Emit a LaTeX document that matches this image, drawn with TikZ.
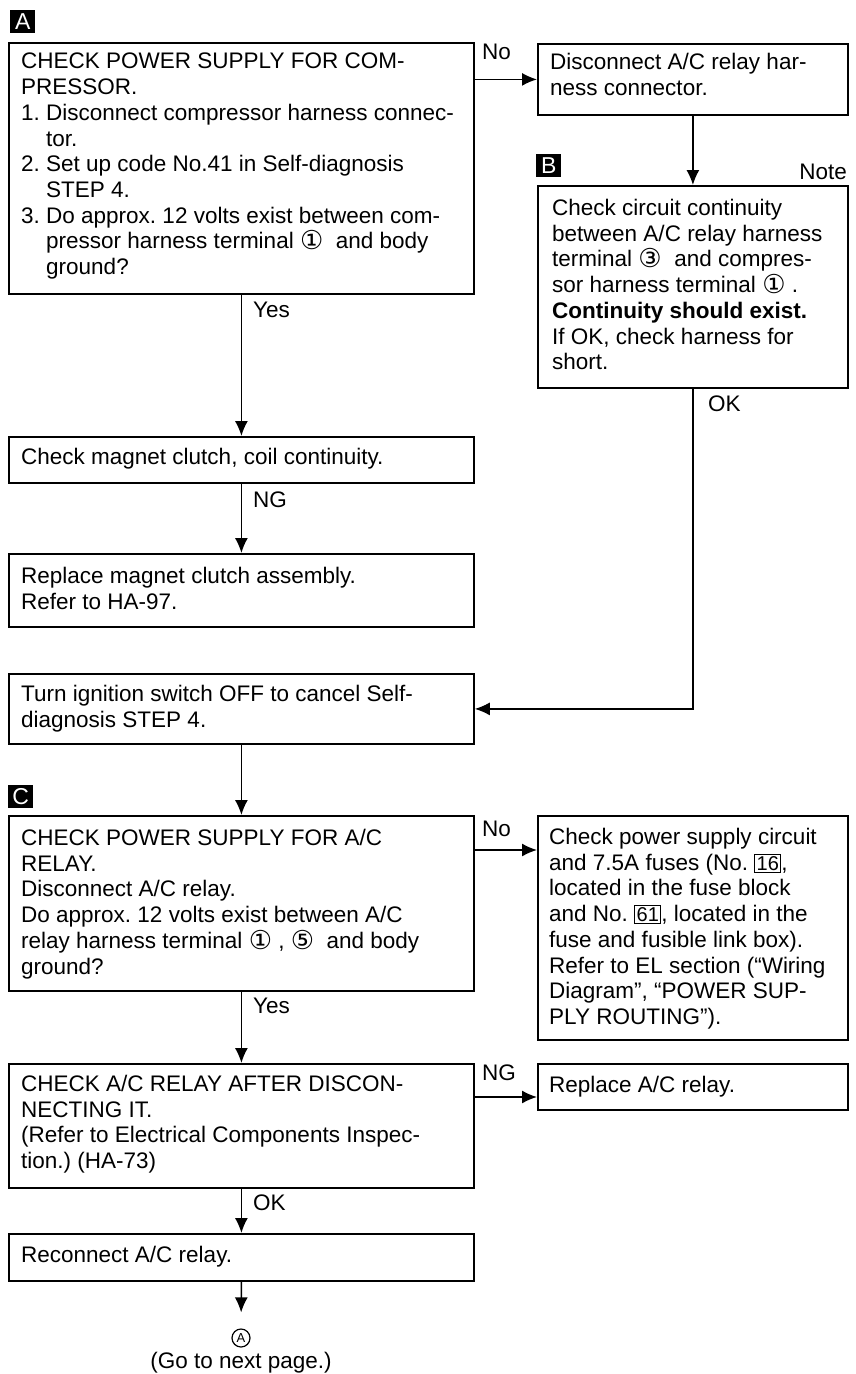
\documentclass[tikz,border=0pt]{standalone}
\usepackage{fontspec}
\setmainfont{Liberation Sans}
\newfontfamily\symf{DejaVu Sans}
\usetikzlibrary{arrows.meta}
\newcommand\cn[1]{{\symf\fontsize{26}{26}\selectfont\raisebox{-1pt}{#1}}}
\newcommand\fnum[1]{{\setlength\fboxsep{1.5pt}\setlength\fboxrule{0.9pt}\fbox{\fontsize{20}{20}\selectfont #1}}}
\begin{document}
\begin{tikzpicture}[x=1pt,y=-1pt,
  font=\fontsize{22.5}{25.7}\selectfont\frenchspacing,
  box/.style={draw,line width=1.8pt,anchor=north west,inner sep=0pt},
  txt/.style={anchor=north west,inner sep=0pt,align=left},
  lbl/.style={anchor=base west,inner sep=0pt},
  tag/.style={fill=black,text=white,minimum width=25pt,minimum height=23pt,inner sep=0pt,anchor=north west,font=\fontsize{23}{23}\selectfont},
  arr/.style={line width=1.5pt,-{Latex[length=15pt,width=13pt]}}]
\useasboundingbox (0,0) rectangle (856,1374);

% tags
\node[tag] (tA) at (10,10) {A};
\node[tag] (tB) at (536,154) {B};
\node[tag] (tC) at (8,785) {C};

% boxes
\node[box,minimum width=465pt,minimum height=251pt] (A1) at (8,42) {};
\node[box,minimum width=310pt,minimum height=71pt] (disc) at (537,43) {};
\node[box,minimum width=310pt,minimum height=202pt] (B) at (537,185) {};
\node[box,minimum width=465pt,minimum height=46pt] (mag) at (8,436) {};
\node[box,minimum width=465pt,minimum height=73pt] (repl) at (8,553) {};
\node[box,minimum width=465pt,minimum height=70pt] (turn) at (8,673) {};
\node[box,minimum width=465pt,minimum height=175pt] (C) at (8,815) {};
\node[box,minimum width=310pt,minimum height=224pt] (power) at (537,815) {};
\node[box,minimum width=465pt,minimum height=124pt] (chk) at (8,1063) {};
\node[box,minimum width=310pt,minimum height=46pt] (repAC) at (537,1063) {};
\node[box,minimum width=465pt,minimum height=47pt] (recon) at (8,1233) {};
\node[circle,draw,line width=1.2pt,minimum size=18pt,inner sep=0pt,font=\fontsize{13}{13}\selectfont] (circA) at (241,1338) {A};
\node[anchor=base,inner sep=0pt] (go) at (241,1368) {(Go to next page.)};

% texts
\node[txt] (A1t) at (21,53) {CHECK POWER SUPPLY FOR COM-\\
PRESSOR.\\
1. Disconnect compressor harness connec-\\
\hphantom{1. }tor.\\
2. Set up code No.41 in Self-diagnosis\\
\hphantom{2. }STEP 4.\\
3. Do approx. 12 volts exist between com-\\
\hphantom{3. }pressor harness terminal \cn{①} \ and body\\
\hphantom{3. }ground?};
\node[txt] (disct) at (550,53) {Disconnect A/C relay har-\\ness connector.};
\node[txt] (Bt) at (552,199) {Check circuit continuity\\
between A/C relay harness\\
terminal \cn{③} \ and compres-\\
sor harness terminal \cn{①} .\\
\textbf{Continuity should exist.}\\
If OK, check harness for\\
short.};
\node[txt] (magt) at (21,448) {Check magnet clutch, coil continuity.};
\node[txt] (replt) at (21,567) {Replace magnet clutch assembly.\\Refer to HA-97.};
\node[txt] (turnt) at (21,685) {Turn ignition switch OFF to cancel Self-\\diagnosis STEP 4.};
\node[txt] (Ct) at (21,829) {CHECK POWER SUPPLY FOR A/C\\
RELAY.\\
Disconnect A/C relay.\\
Do approx. 12 volts exist between A/C\\
relay harness terminal \cn{①} , \cn{⑤} \ and body\\
ground?};
\node[txt] (powert) at (549,828) {Check power supply circuit\\
and 7.5A fuses (No. \fnum{16},\\
located in the fuse block\\
and No. \fnum{61}, located in the\\
fuse and fusible link box).\\
Refer to EL section (“Wiring\\
Diagram”, “POWER SUP-\\
PLY ROUTING”).};
\node[txt] (chkt) at (21,1075) {CHECK A/C RELAY AFTER DISCON-\\
NECTING IT.\\
(Refer to Electrical Components Inspec-\\
tion.) (HA-73)};
\node[txt] (repACt) at (549,1076) {Replace A/C relay.};
\node[txt] (recont) at (21,1246) {Reconnect A/C relay.};

% connectors
\draw[arr] (A1.east |- disc.west) -- (disc.west);
\draw[arr] (disc.south) -- (B.north);
\draw[arr] (A1.south) -- (mag.north);
\draw[arr] (mag.south) -- (repl.north);
\draw[arr] (B.south) |- (turn.east);
\draw[arr] (turn.south) -- (C.north);
\draw[arr] ([yshift=-35pt]C.north east) -- ([yshift=-35pt]power.north west);
\draw[arr] (C.south) -- (chk.north);
\draw[arr] ([yshift=-34pt]chk.north east) -- ([yshift=-34pt]repAC.north west);
\draw[arr] (chk.south) -- (recon.north);
\draw[arr,shorten >=16pt] (recon.south) -- (circA.north);

% labels
\node[lbl] (lNo1) at (482,59) {No};
\node[lbl] (lYes1) at (253,317) {Yes};
\node[lbl] (lNG1) at (253,507) {NG};
\node[lbl] (lOK1) at (708,411) {OK};
\node[anchor=base east,inner sep=0pt] (lNote) at (847,179) {Note};
\node[lbl] (lNo2) at (482,836) {No};
\node[lbl] (lYes2) at (253,1013) {Yes};
\node[lbl] (lNG2) at (482,1080) {NG};
\node[lbl] (lOK2) at (253,1210) {OK};
\end{tikzpicture}
\end{document}
